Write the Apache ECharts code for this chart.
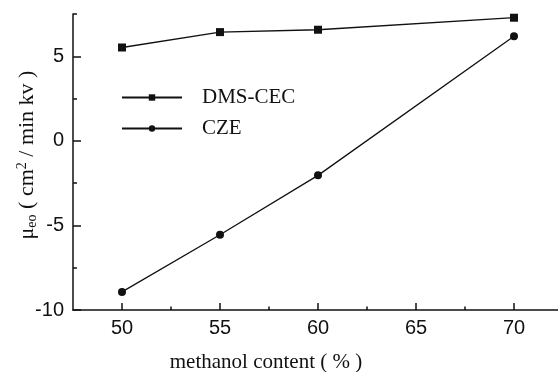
<!DOCTYPE html>
<html>
<head>
<meta charset="utf-8">
<script src="https://cdn.jsdelivr.net/npm/echarts@6/dist/echarts.min.js"></script>
<style>html,body{margin:0;padding:0;background:#fff;}#c{width:558px;height:372px;}</style>
</head>
<body>
<div id="c"></div>
<script>
const methanol = [50, 55, 60, 70];
const dmsCec = [5.52, 6.43, 6.57, 7.28];
const cze = [-8.93, -5.55, -2.04, 6.19];
const xMajorTicks = [50, 55, 60, 65, 70];
const xMinorTicks = [52.5, 57.5, 62.5, 67.5];
const yMajorTicks = [-10, -5, 0, 5];
const yMinorTicks = [-7.5, -2.5, 2.5, 7.5];
const seriesNames = ['DMS-CEC', 'CZE'];

const chart = echarts.init(document.getElementById('c'), null, {renderer: 'canvas'});
const black = '#111';
const sans = 'Liberation Sans';
const serif = 'Liberation Serif';

chart.setOption({
  backgroundColor: '#fff',
  animation: false,
  grid: {left: 73, top: 14, width: 490, height: 296, containLabel: false, outerBoundsMode: 'none'},
  legend: {
    orient: 'vertical',
    left: 116,
    top: 82,
    itemWidth: 60,
    itemHeight: 8,
    itemGap: 10,
    data: seriesNames,
    textStyle: {fontFamily: serif, fontSize: 21, color: black, lineHeight: 21, padding: [0, 0, 0, 15]}
  },
  xAxis: [{
    type: 'value', min: 47.5, max: 72.5, position: 'bottom',
    axisLine: {onZero: false, lineStyle: {color: black, width: 1.5}},
    axisTick: {inside: true, length: 7, customValues: xMajorTicks, lineStyle: {color: black, width: 1.5}},
    axisLabel: {customValues: xMajorTicks, fontFamily: sans, fontSize: 20, color: black, margin: 8},
    splitLine: {show: false},
    name: 'methanol content ( % )',
    nameLocation: 'middle',
    nameGap: 42,
    nameMoveOverlap: false,
    nameTextStyle: {fontFamily: serif, fontSize: 21, color: black, padding: [0, 104, 0, 0]}
  }, {
    type: 'value', min: 47.5, max: 72.5, position: 'bottom',
    axisLine: {show: false, onZero: false},
    axisTick: {inside: true, length: 3.5, customValues: xMinorTicks, lineStyle: {color: black, width: 1.5}},
    axisLabel: {show: false},
    splitLine: {show: false}
  }],
  yAxis: [{
    type: 'value', min: -10, max: 7.5, position: 'left',
    axisLine: {show: true, onZero: false, lineStyle: {color: black, width: 1.5}},
    axisTick: {show: true, inside: true, length: 8, customValues: yMajorTicks, lineStyle: {color: black, width: 1.5}},
    axisLabel: {customValues: yMajorTicks, fontFamily: sans, fontSize: 20, color: black, margin: 9},
    splitLine: {show: false},
    name: '{m|μ}{sub|eo}{t| ( cm}{sup|2}{t| / min kv )}',
    nameLocation: 'middle',
    nameGap: 34,
    nameRotate: 90,
    nameMoveOverlap: false,
    nameTextStyle: {
      fontFamily: serif, fontSize: 22, color: black, padding: [0, 0, 0, 14],
      rich: {
        m: {fontFamily: serif, fontSize: 22, color: black, lineHeight: 24},
        t: {fontFamily: serif, fontSize: 22, color: black, lineHeight: 24},
        sub: {fontFamily: serif, fontSize: 14, color: black, verticalAlign: 'bottom', lineHeight: 24},
        sup: {fontFamily: serif, fontSize: 14, color: black, verticalAlign: 'top', lineHeight: 24}
      }
    }
  }, {
    type: 'value', min: -10, max: 7.5, position: 'left',
    axisLine: {show: false, onZero: false},
    axisTick: {show: true, inside: true, length: 4, customValues: yMinorTicks, lineStyle: {color: black, width: 1.5}},
    axisLabel: {show: false},
    splitLine: {show: false}
  }],
  series: [{
    name: seriesNames[0], type: 'line',
    data: methanol.map((x, i) => [x, dmsCec[i]]),
    symbol: 'rect', symbolSize: 8,
    lineStyle: {color: black, width: 1.3},
    itemStyle: {color: black}
  }, {
    name: seriesNames[1], type: 'line',
    data: methanol.map((x, i) => [x, cze[i]]),
    symbol: 'circle', symbolSize: 8,
    lineStyle: {color: black, width: 1.3},
    itemStyle: {color: black}
  }]
});
</script>
</body>
</html>
